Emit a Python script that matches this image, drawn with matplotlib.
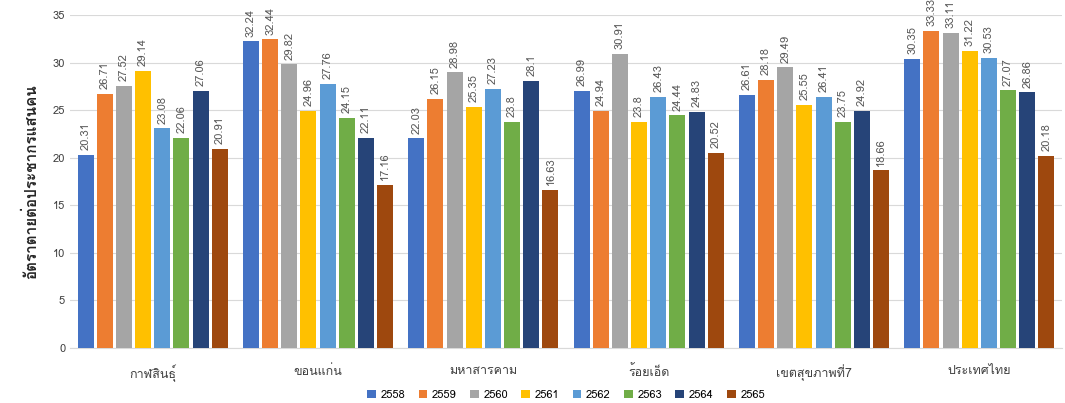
import matplotlib
matplotlib.use("Agg")
import matplotlib.pyplot as plt
from matplotlib import font_manager
from matplotlib.ft2font import FT2Font
import numpy as np

regions = ["กาฬสินธุ์", "ขอนแก่น", "มหาสารคาม", "ร้อยเอ็ด", "เขตสุขภาพที่7", "ประเทศไทย"]
years = ["2558", "2559", "2560", "2561", "2562", "2563", "2564", "2565"]
y2558 = [20.31, 32.24, 22.03, 26.99, 26.61, 30.35]
y2559 = [26.71, 32.44, 26.15, 24.94, 28.18, 33.33]
y2560 = [27.52, 29.82, 28.98, 30.91, 29.49, 33.11]
y2561 = [29.14, 24.96, 25.35, 23.8, 25.55, 31.22]
y2562 = [23.08, 27.76, 27.23, 26.43, 26.41, 30.53]
y2563 = [22.06, 24.15, 23.8, 24.44, 23.75, 27.07]
y2564 = [27.06, 22.11, 28.1, 24.83, 24.92, 26.86]
y2565 = [20.91, 17.16, 16.63, 20.52, 18.66, 20.18]
series = [y2558, y2559, y2560, y2561, y2562, y2563, y2564, y2565]
colors = ["#4472C4", "#ED7D31", "#A5A5A5", "#FFC000", "#5B9BD5", "#70AD47", "#264478", "#9E480E"]


def thai_font():
    for f in font_manager.fontManager.ttflist:
        try:
            if 0x0E01 in FT2Font(f.fname).get_charmap():
                return f.name
        except Exception:
            pass
    return None


th = thai_font()
fams = ([th] if th else []) + ["DejaVu Sans"]
plt.rcParams["font.family"] = fams

fig = plt.figure(figsize=(10.65, 4.03), dpi=100)
ax = fig.add_axes([70 / 1065, 55 / 403, 992 / 1065, 333 / 403])

x = np.arange(len(regions))
slot = 0.116
bw = 0.097
for i, vals in enumerate(series):
    pos = x + (i - 3.5) * slot
    bars = ax.bar(pos, vals, width=bw, color=colors[i], label=years[i], zorder=3)
    for b, v in zip(bars, vals):
        ax.text(b.get_x() + b.get_width() / 2, v + 0.5, f"{v:g}", rotation=90,
                ha="center", va="bottom", fontsize=8, color="#595959")

ax.set_ylim(0, 35)
ax.set_yticks(range(0, 36, 5))
ax.set_xlim(-0.5, len(regions) - 0.5)
ax.set_xticks(x)
ax.set_xticklabels(regions, fontsize=9, color="#404040")
ax.tick_params(axis="both", length=0, labelsize=8, colors="#404040")
ax.tick_params(axis="x", pad=12, labelsize=9)
ax.grid(axis="y", color="#D9D9D9", linewidth=0.8, zorder=0)
for s in ["top", "right", "left"]:
    ax.spines[s].set_visible(False)
ax.spines["bottom"].set_color("#D9D9D9")
ax.set_ylabel("อัตราตายต่อประชากรแสนคน", fontsize=11, fontweight="bold", color="#262626", labelpad=10)

ax.legend(loc="upper center", bbox_to_anchor=(0.5, -0.095), ncol=8, frameon=False,
          fontsize=8, handlelength=0.8, handleheight=0.8, columnspacing=1.2, handletextpad=0.4)

fig.savefig("out.png", dpi=100)
